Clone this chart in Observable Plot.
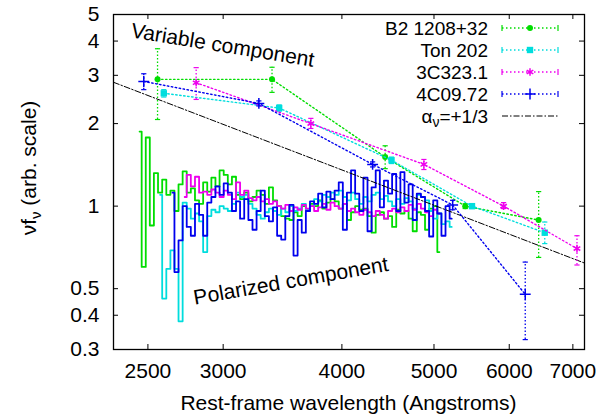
<!DOCTYPE html>
<html><head><meta charset="utf-8">
<script src="https://cdn.jsdelivr.net/npm/d3@7"></script>
<script src="https://cdn.jsdelivr.net/npm/@observablehq/plot@0.6"></script>
<style>body{margin:0;background:#fff;} #chart svg{display:block;}</style>
</head><body><div id="chart"></div>
<script>
// ---------- data ----------
const xTicks = [2500, 3000, 4000, 5000, 6000, 7000];
const yTicks = [0.3, 0.4, 0.5, 1, 2, 3, 4, 5];

const seriesNames = ["B2 1208+32", "Ton 202", "3C323.1", "4C09.72"];
const alphaLabel = ["α", "ν", "=+1/3"];

// Polarized component (rest-frame wavelength grid, Angstroms)
const wavelengthGrid = [2450, 2475, 2499, 2524, 2549, 2575, 2601, 2627, 2653, 2679,
  2706, 2733, 2760, 2788, 2816, 2844, 2872, 2901, 2930, 2959,
  2989, 3019, 3049, 3080, 3110, 3141, 3173, 3205, 3237, 3269,
  3302, 3335, 3368, 3402, 3436, 3470, 3505, 3540, 3575, 3611,
  3647, 3684, 3721, 3758, 3795, 3833, 3872, 3910, 3950, 3989,
  4029, 4069, 4110, 4151, 4193, 4235, 4277, 4320, 4363, 4407,
  4451, 4495, 4540, 4586, 4632, 4678, 4725, 4772, 4820, 4868,
  4917, 4966, 5015, 5066, 5116, 5167, 5219];

const polB2 = [1.87, 0.60, 1.78, 0.85, 1.32, 1.12, 1.25, 1.10, 1.14, 0.96,
  1.20, 1.34, 1.12, 1.16, 1.05, 1.02, 1.22, 1.13, 1.27, 1.18,
  1.35, 1.30, 1.20, 1.28, 1.10, 1.06, 1.12, 1.04, 1.08, 1.14,
  1.10, 1.02, 1.17, 1.05, 1.00, 0.92, 0.90, 0.89, 0.95, 0.92,
  1.00, 0.96, 1.02, 1.00, 1.05, 0.98, 1.03, 1.06, 1.04, 0.98,
  1.02, 0.89, 0.95, 1.00, 0.97, 0.98, 0.92, 0.80, 0.93, 0.95,
  0.90, 0.92, 0.84, 0.97, 0.94, 0.96, 0.90, 0.81, 0.95, 0.93,
  0.82, 0.98, 1.00, 0.68, null, null, null];

const polTon202 = [null, null, null, null, null, 1.10, 0.46, 0.59, 0.69, 0.59,
  0.38, 1.03, 0.98, 0.90, 0.94, 0.88, 0.68, 0.92, 0.97, 0.95,
  1.00, 0.98, 0.96, 1.02, 1.12, 1.08, 1.10, 1.02, 0.98, 0.93,
  0.90, 0.95, 0.98, 0.96, 0.93, 0.98, 0.95, 1.00, 0.96, 0.98,
  1.02, 0.97, 1.00, 1.06, 1.04, 1.10, 1.08, 1.12, 1.10, 1.14,
  1.08, 1.05, 1.12, 1.06, 1.02, 1.08, 1.04, 1.10, 1.12, 1.06,
  1.09, 1.04, 1.00, 1.06, 1.02, 1.07, 1.04, 0.98, 1.10, 1.08,
  1.05, 0.96, 0.90, 0.94, 0.86, 0.88, 0.84];

const pol3C323 = [null, null, null, null, null, null, null, null, null, null,
  null, 1.08, 1.30, 1.18, 1.28, 1.12, 1.13, 1.10, 1.15, 1.12,
  1.08, 1.14, 1.10, 1.06, 1.22, 1.10, 1.14, 1.07, 1.05, 1.08,
  1.04, 1.06, 1.02, 1.04, 1.00, 0.98, 1.01, 0.96, 0.99, 0.97,
  1.01, 0.98, 1.00, 0.96, 0.99, 1.02, 0.97, 1.03, 1.00, 0.98,
  1.02, 0.96, 0.98, 0.95, 0.93, 0.97, 0.95, 0.92, 0.96, 0.93,
  0.90, 0.96, 0.98, 0.95, 0.99, 0.96, 1.01, 0.97, 1.02, 0.98,
  0.95, 0.92, 0.97, 0.94, null, null, null];

const pol4C0972 = [null, null, null, null, null, null, null, null, 1.12, 0.575,
  0.75, 1.00, 0.84, 0.78, 1.02, 0.93, 0.78, 1.03, 1.08, 1.18,
  1.10, 1.21, 1.12, 0.96, 1.04, 0.90, 1.06, 0.89, 0.82, 0.96,
  1.14, 0.92, 0.88, 0.99, 0.78, 0.755, 0.92, 1.01, 0.66, 0.89,
  0.80, 0.96, 1.04, 1.02, 1.11, 0.99, 1.13, 1.06, 1.14, 1.22,
  0.82, 1.12, 1.35, 1.11, 0.96, 1.27, 0.81, 1.17, 1.35, 0.99,
  1.24, 1.11, 1.31, 0.96, 1.33, 1.03, 1.20, 0.89, 1.11, 1.08,
  0.96, 0.775, 1.05, 0.94, 0.78, 1.00, 0.90];

// Variable component
const varB2Wave = [2559, 3377, 4442, 5393, 6443];
const varB2Flux = [2.90, 2.90, 1.51, 1.00, 0.89];
const varB2Lo   = [2.07, 2.60, 1.37, 0.98, 0.65];
const varB2Hi   = [3.75, 3.21, 1.66, 1.02, 1.13];

const varTonWave = [2598, 3436, 4511, 5482, 6539];
const varTonFlux = [2.58, 2.28, 1.47, 1.00, 0.80];
const varTonLo   = [2.50, 2.22, 1.43, 0.98, 0.73];
const varTonHi   = [2.66, 2.34, 1.51, 1.02, 0.875];

const var3CWave = [2810, 3710, 4879, 5918, 7070];
const var3CFlux = [2.82, 2.00, 1.42, 1.00, 0.70];
const var3CLo   = [2.45, 1.92, 1.36, 0.98, 0.61];
const var3CHi   = [3.20, 2.09, 1.48, 1.03, 0.78];

const var4CWave = [2475, 3271, 4309, 5231, 6237];
const var4CFlux = [2.85, 2.37, 1.42, 1.01, 0.477];
const var4CLo   = [2.66, 2.32, 1.39, 0.97, 0.326];
const var4CHi   = [3.04, 2.42, 1.45, 1.05, 0.625];

// alpha_nu = +1/3 power law (end points)
const alphaWave = [2300, 7200];
const alphaFlux = [2.83, 0.62];

// annotations
const annotText = ["Variable component", "Polarized component"];
const annotWave = [2395, 2801];
const annotFlux = [4.13, 0.437];
const annotAngle = [9.2, -9.9];

// ---------- styles ----------
const colors = ["#00dd00", "#00dddd", "#ee00ee", "#0000ee"];
const symbols = ["circle", "square", "asterisk", "plus"];
const FONT = "'Liberation Sans', Arial, Helvetica, sans-serif";
const W = 609, H = 419, ML = 113, MR = 25, MT = 14, MB = 70;
const PW = W - ML - MR, PH = H - MT - MB;

// ---------- build ----------
const polarized = [polB2, polTon202, pol3C323, pol4C0972];
const varSets = [
  [varB2Wave, varB2Flux, varB2Lo, varB2Hi],
  [varTonWave, varTonFlux, varTonLo, varTonHi],
  [var3CWave, var3CFlux, var3CLo, var3CHi],
  [var4CWave, var4CFlux, var4CLo, var4CHi]
];
const capSymbol = {draw(ctx, size) { const r = Math.sqrt(size / Math.PI); ctx.moveTo(-r, 0); ctx.lineTo(r, 0); }};
const markerR = {circle: 3, square: 3.6, asterisk: 3.6, plus: 3.6};

const marks = [];
polarized.forEach((vals, k) => {
  const rows = wavelengthGrid.map((w, i) => ({w, f: vals[i]})).filter(d => d.f != null);
  marks.push(Plot.line(rows, {x: "w", y: "f", curve: "step", stroke: colors[k], strokeWidth: 1.8}));
});
marks.push(Plot.line(alphaWave.map((w, i) => ({w, f: alphaFlux[i]})),
  {x: "w", y: "f", stroke: "black", strokeWidth: 1, strokeDasharray: "6,2,1.5,2"}));
varSets.forEach(([wv, fl, lo, hi], k) => {
  const rows = wv.map((w, i) => ({w, f: fl[i], lo: lo[i], hi: hi[i]}));
  const c = colors[k];
  marks.push(Plot.line(rows, {x: "w", y: "f", stroke: c, strokeWidth: 1.4, strokeDasharray: "1.5,2.5"}));
  marks.push(Plot.ruleX(rows, {x: "w", y1: "lo", y2: "hi", stroke: c, strokeWidth: 1.3, strokeDasharray: "1.5,2"}));
  marks.push(Plot.dot(rows, {x: "w", y: "lo", symbol: capSymbol, r: 2.6, stroke: c, fill: "none", strokeWidth: 1.2}));
  marks.push(Plot.dot(rows, {x: "w", y: "hi", symbol: capSymbol, r: 2.6, stroke: c, fill: "none", strokeWidth: 1.2}));
  if (symbols[k] === "circle" || symbols[k] === "square") {
    marks.push(Plot.dot(rows, {x: "w", y: "f", symbol: symbols[k], r: markerR[symbols[k]], fill: c, stroke: "none"}));
  } else {
    marks.push(Plot.dot(rows, {x: "w", y: "f", symbol: symbols[k], r: markerR[symbols[k]], stroke: c, strokeWidth: 1.5, fill: "none"}));
  }
});
marks.push(Plot.text(annotText.map((t, i) => ({t, w: annotWave[i], f: annotFlux[i], a: annotAngle[i]})),
  {x: "w", y: "f", text: "t", rotate: "a", textAnchor: "start", lineAnchor: "bottom", fontSize: 21, fill: "black"}));

// ticks (inward, mirrored) + frame + tick labels
marks.push(Plot.tickX(xTicks, {x: d => d, insetTop: PH - 5, stroke: "black"}));
marks.push(Plot.tickX(xTicks, {x: d => d, insetBottom: PH - 5, stroke: "black"}));
marks.push(Plot.tickY(yTicks, {y: d => d, insetRight: PW - 5, stroke: "black"}));
marks.push(Plot.tickY(yTicks, {y: d => d, insetLeft: PW - 5, stroke: "black"}));
marks.push(Plot.frame({stroke: "black", strokeWidth: 1.3}));
marks.push(Plot.axisX({ticks: xTicks, tickSize: 0, tickPadding: 14, tickFormat: d => String(d), label: null, fontSize: 21}));
marks.push(Plot.axisY({ticks: yTicks, tickSize: 0, tickPadding: 14, tickFormat: d => String(d), label: null, fontSize: 21}));

const chart = Plot.plot({
  width: W, height: H,
  marginLeft: ML, marginRight: MR, marginTop: MT, marginBottom: MB,
  style: {fontFamily: FONT, fontSize: "21px", background: "white", color: "black"},
  x: {type: "log", domain: [2300, 7200]},
  y: {type: "log", domain: [0.3, 5]},
  marks
});
document.getElementById("chart").appendChild(chart);

// axis titles and legend
const svg = d3.select(chart);
svg.append("text").attr("x", ML + PW / 2).attr("y", 410).attr("text-anchor", "middle")
  .attr("font-family", FONT).attr("font-size", 21).attr("fill", "black")
  .text("Rest-frame wavelength (Angstroms)");
const yl = svg.append("text").attr("transform", "translate(36,168) rotate(-90)")
  .attr("text-anchor", "middle").attr("font-family", FONT).attr("font-size", 21).attr("fill", "black");
yl.append("tspan").text("νf");
yl.append("tspan").attr("font-size", 15).attr("dy", 5).text("ν");
yl.append("tspan").attr("dy", -5).text(" (arb. scale)");

const LFS = 19, LSTEP = 22, LY0 = 28;
const lg = svg.append("g").attr("font-family", FONT).attr("font-size", LFS).attr("fill", "black");
const d3sym = {circle: d3.symbolCircle, square: d3.symbolSquare, asterisk: d3.symbolAsterisk, plus: d3.symbolPlus};
seriesNames.forEach((name, i) => {
  const yy = LY0 + LSTEP * i, c = colors[i];
  lg.append("text").attr("x", 488).attr("y", yy + 7).attr("text-anchor", "end").text(name);
  lg.append("line").attr("x1", 502).attr("x2", 558).attr("y1", yy).attr("y2", yy)
    .attr("stroke", c).attr("stroke-width", 1.4).attr("stroke-dasharray", "1.5,2.5");
  [502, 558].forEach(x => lg.append("line").attr("x1", x).attr("x2", x).attr("y1", yy - 3).attr("y2", yy + 3)
    .attr("stroke", c).attr("stroke-width", 1.2));
  const filled = symbols[i] === "circle" || symbols[i] === "square";
  const r = markerR[symbols[i]];
  lg.append("path").attr("transform", `translate(530,${yy})`)
    .attr("d", d3.symbol(d3sym[symbols[i]], Math.PI * r * r)())
    .attr("fill", filled ? c : "none").attr("stroke", filled ? "none" : c).attr("stroke-width", 1.5);
});
{
  const yy = LY0 + LSTEP * 4;
  const t = lg.append("text").attr("x", 488).attr("y", yy + 7).attr("text-anchor", "end");
  t.append("tspan").text(alphaLabel[0]);
  t.append("tspan").attr("font-size", 14).attr("dy", 4).text(alphaLabel[1]);
  t.append("tspan").attr("dy", -4).text(alphaLabel[2]);
  lg.append("line").attr("x1", 502).attr("x2", 558).attr("y1", yy).attr("y2", yy)
    .attr("stroke", "black").attr("stroke-width", 1).attr("stroke-dasharray", "6,2,1.5,2");
}
</script></body></html>
